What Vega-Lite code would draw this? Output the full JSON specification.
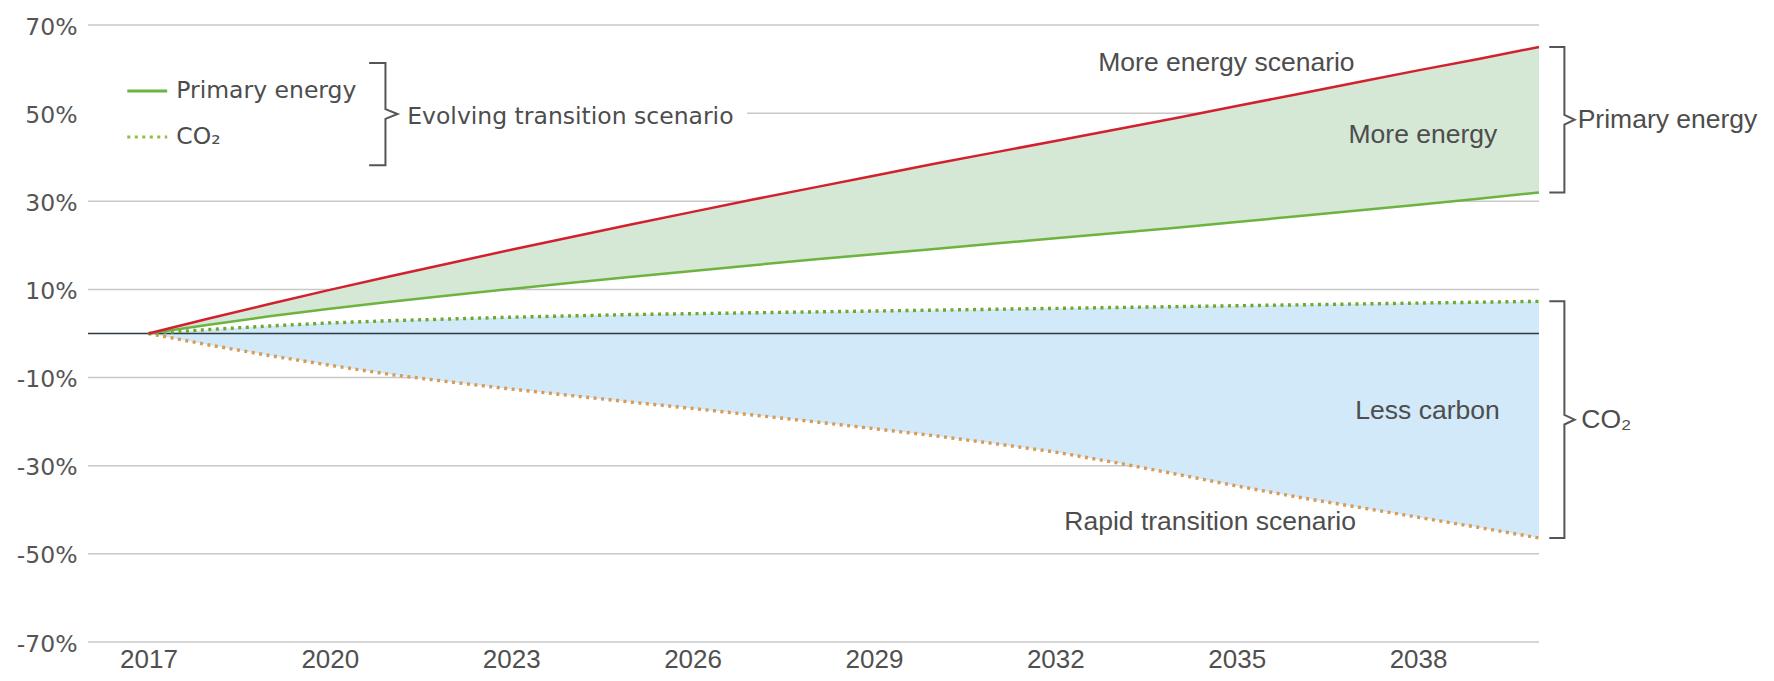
{
  "$schema": "https://vega.github.io/schema/vega-lite/v6.json",
  "width": 1451,
  "height": 617,
  "autosize": {"type": "none"},
  "padding": {"left": 88, "top": 25, "right": 235, "bottom": 39},
  "background": "white",
  "config": {"view": {"stroke": null}},
  "datasets": {
    "s": [
      {"year": 2017, "more": 0, "evo_pe": 0, "evo_co2": 0, "rapid_co2": 0},
      {"year": 2018, "more": 3.4, "evo_pe": 2.0, "evo_co2": 0.9, "rapid_co2": -2.6},
      {"year": 2019, "more": 6.7, "evo_pe": 3.9, "evo_co2": 1.7, "rapid_co2": -5.0},
      {"year": 2020, "more": 9.9, "evo_pe": 5.6, "evo_co2": 2.4, "rapid_co2": -7.2},
      {"year": 2021, "more": 13.0, "evo_pe": 7.2, "evo_co2": 2.9, "rapid_co2": -9.3},
      {"year": 2022, "more": 16.0, "evo_pe": 8.7, "evo_co2": 3.3, "rapid_co2": -11.0},
      {"year": 2023, "more": 19.0, "evo_pe": 10.1, "evo_co2": 3.7, "rapid_co2": -12.6},
      {"year": 2024, "more": 21.9, "evo_pe": 11.5, "evo_co2": 4.0, "rapid_co2": -14.1},
      {"year": 2025, "more": 24.8, "evo_pe": 12.9, "evo_co2": 4.3, "rapid_co2": -15.6},
      {"year": 2026, "more": 27.6, "evo_pe": 14.2, "evo_co2": 4.5, "rapid_co2": -17.0},
      {"year": 2027, "more": 30.4, "evo_pe": 15.5, "evo_co2": 4.7, "rapid_co2": -18.5},
      {"year": 2028, "more": 33.1, "evo_pe": 16.8, "evo_co2": 4.9, "rapid_co2": -20.0},
      {"year": 2029, "more": 35.8, "evo_pe": 18.0, "evo_co2": 5.1, "rapid_co2": -21.6},
      {"year": 2030, "more": 38.5, "evo_pe": 19.2, "evo_co2": 5.3, "rapid_co2": -23.2},
      {"year": 2031, "more": 41.1, "evo_pe": 20.4, "evo_co2": 5.5, "rapid_co2": -25.0},
      {"year": 2032, "more": 43.7, "evo_pe": 21.6, "evo_co2": 5.7, "rapid_co2": -26.9},
      {"year": 2033, "more": 46.3, "evo_pe": 22.8, "evo_co2": 5.9, "rapid_co2": -29.3},
      {"year": 2034, "more": 48.9, "evo_pe": 24.0, "evo_co2": 6.1, "rapid_co2": -31.9},
      {"year": 2035, "more": 51.6, "evo_pe": 25.3, "evo_co2": 6.3, "rapid_co2": -34.6},
      {"year": 2036, "more": 54.3, "evo_pe": 26.6, "evo_co2": 6.5, "rapid_co2": -37.1},
      {"year": 2037, "more": 57.0, "evo_pe": 27.9, "evo_co2": 6.7, "rapid_co2": -39.4},
      {"year": 2038, "more": 59.7, "evo_pe": 29.2, "evo_co2": 6.9, "rapid_co2": -41.7},
      {"year": 2039, "more": 62.3, "evo_pe": 30.6, "evo_co2": 7.1, "rapid_co2": -44.0},
      {"year": 2040, "more": 65.0, "evo_pe": 32.0, "evo_co2": 7.3, "rapid_co2": -46.4}
    ],
    "brackets": [
      {"b": "left", "o": 1, "x": 2020.65, "y": 61.4},
      {"b": "left", "o": 2, "x": 2020.92, "y": 61.4},
      {"b": "left", "o": 3, "x": 2020.92, "y": 50.9},
      {"b": "left", "o": 4, "x": 2021.12, "y": 49.8},
      {"b": "left", "o": 5, "x": 2020.92, "y": 48.7},
      {"b": "left", "o": 6, "x": 2020.92, "y": 38.2},
      {"b": "left", "o": 7, "x": 2020.65, "y": 38.2},
      {"b": "pe", "o": 1, "x": 2040.17, "y": 65.0},
      {"b": "pe", "o": 2, "x": 2040.42, "y": 65.0},
      {"b": "pe", "o": 3, "x": 2040.42, "y": 49.6},
      {"b": "pe", "o": 4, "x": 2040.59, "y": 48.5},
      {"b": "pe", "o": 5, "x": 2040.42, "y": 47.4},
      {"b": "pe", "o": 6, "x": 2040.42, "y": 32.0},
      {"b": "pe", "o": 7, "x": 2040.17, "y": 32.0},
      {"b": "co2", "o": 1, "x": 2040.17, "y": 7.3},
      {"b": "co2", "o": 2, "x": 2040.42, "y": 7.3},
      {"b": "co2", "o": 3, "x": 2040.42, "y": -18.45},
      {"b": "co2", "o": 4, "x": 2040.59, "y": -19.55},
      {"b": "co2", "o": 5, "x": 2040.42, "y": -20.65},
      {"b": "co2", "o": 6, "x": 2040.42, "y": -46.4},
      {"b": "co2", "o": 7, "x": 2040.17, "y": -46.4}
    ]
  },
  "layer": [
    {
      "data": {"values": [{"v": -70}, {"v": -50}, {"v": -30}, {"v": -10}, {"v": 10}, {"v": 30}, {"v": 70}]},
      "mark": {"type": "rule", "color": "#c8c8c8", "strokeWidth": 1.5},
      "encoding": {
        "y": {
          "field": "v", "type": "quantitative", "title": null,
          "scale": {"domain": [-70, 70], "nice": false, "zero": false},
          "axis": {
            "values": [-70, -50, -30, -10, 10, 30, 50, 70],
            "labelExpr": "datum.value + '%'",
            "grid": false, "domain": false, "ticks": false,
            "labelFont": "DejaVu Sans", "labelFontSize": 23.5, "labelColor": "#555555",
            "labelPadding": 11, "labelOffset": 2, "title": null
          }
        }
      }
    },
    {
      "data": {"values": [{"x": 2026.9, "x2": 2040, "v": 50}]},
      "mark": {"type": "rule", "color": "#c8c8c8", "strokeWidth": 1.5},
      "encoding": {
        "x": {"field": "x", "type": "quantitative", "title": null},
        "x2": {"field": "x2"},
        "y": {"field": "v", "type": "quantitative", "title": null}
      }
    },
    {
      "data": {"name": "s"},
      "mark": {"type": "area", "color": "#d5e7d5", "opacity": 1},
      "encoding": {
        "x": {
          "field": "year", "type": "quantitative", "title": null,
          "scale": {"domain": [2016, 2040], "nice": false, "zero": false},
          "axis": {
            "values": [2017, 2020, 2023, 2026, 2029, 2032, 2035, 2038],
            "format": "d", "grid": false, "domain": false, "ticks": false,
            "labelFont": "Liberation Sans", "labelFontSize": 26, "labelColor": "#505050",
            "labelPadding": 4, "title": null
          }
        },
        "y": {"field": "evo_pe", "type": "quantitative", "title": null},
        "y2": {"field": "more"}
      }
    },
    {
      "data": {"name": "s"},
      "mark": {"type": "area", "color": "#d1e9f8", "opacity": 1},
      "encoding": {
        "x": {"field": "year", "type": "quantitative", "title": null},
        "y": {"field": "rapid_co2", "type": "quantitative", "title": null},
        "y2": {"field": "evo_co2"}
      }
    },
    {
      "data": {"values": [{"v": 0}]},
      "mark": {"type": "rule", "color": "#2e3a42", "strokeWidth": 1.6},
      "encoding": {"y": {"field": "v", "type": "quantitative", "title": null}}
    },
    {
      "data": {"name": "s"},
      "mark": {"type": "line", "color": "#d99a55", "strokeWidth": 3.4, "strokeDash": [3, 4.5]},
      "encoding": {
        "x": {"field": "year", "type": "quantitative", "title": null},
        "y": {"field": "rapid_co2", "type": "quantitative", "title": null}
      }
    },
    {
      "data": {"name": "s"},
      "mark": {"type": "line", "color": "#6fa82c", "strokeWidth": 3.4, "strokeDash": [3, 4.5]},
      "encoding": {
        "x": {"field": "year", "type": "quantitative", "title": null},
        "y": {"field": "evo_co2", "type": "quantitative", "title": null}
      }
    },
    {
      "data": {"name": "s"},
      "mark": {"type": "line", "color": "#6db33f", "strokeWidth": 2.5},
      "encoding": {
        "x": {"field": "year", "type": "quantitative", "title": null},
        "y": {"field": "evo_pe", "type": "quantitative", "title": null}
      }
    },
    {
      "data": {"name": "s"},
      "mark": {"type": "line", "color": "#d3202f", "strokeWidth": 2.5},
      "encoding": {
        "x": {"field": "year", "type": "quantitative", "title": null},
        "y": {"field": "more", "type": "quantitative", "title": null}
      }
    },
    {
      "data": {"values": [{"x": 2016.65, "y": 55.0}, {"x": 2017.31, "y": 55.0}]},
      "mark": {"type": "line", "color": "#6db33f", "strokeWidth": 3},
      "encoding": {
        "x": {"field": "x", "type": "quantitative", "title": null},
        "y": {"field": "y", "type": "quantitative", "title": null}
      }
    },
    {
      "data": {"values": [{"x": 2016.65, "y": 44.6}, {"x": 2017.31, "y": 44.6}]},
      "mark": {"type": "line", "color": "#8cc040", "strokeWidth": 3, "strokeDash": [3, 4.5]},
      "encoding": {
        "x": {"field": "x", "type": "quantitative", "title": null},
        "y": {"field": "y", "type": "quantitative", "title": null}
      }
    },
    {
      "data": {"name": "brackets"},
      "mark": {"type": "line", "color": "#555555", "strokeWidth": 2},
      "encoding": {
        "x": {"field": "x", "type": "quantitative", "title": null},
        "y": {"field": "y", "type": "quantitative", "title": null},
        "detail": {"field": "b"},
        "order": {"field": "o", "type": "quantitative"}
      }
    },
    {
      "data": {"values": [
        {"x": 2017.46, "y": 55.0, "t": "Primary energy"},
        {"x": 2017.46, "y": 44.6, "t": "CO₂"},
        {"x": 2021.28, "y": 49.1, "t": "Evolving transition scenario"}
      ]},
      "mark": {"type": "text", "align": "left", "baseline": "middle", "font": "DejaVu Sans", "fontSize": 23.5, "color": "#4d4d4d"},
      "encoding": {
        "x": {"field": "x", "type": "quantitative", "title": null},
        "y": {"field": "y", "type": "quantitative", "title": null},
        "text": {"field": "t"}
      }
    },
    {
      "data": {"values": [
        {"x": 2034.83, "y": 61.4, "t": "More energy scenario"},
        {"x": 2034.56, "y": -42.8, "t": "Rapid transition scenario"}
      ]},
      "mark": {"type": "text", "align": "center", "baseline": "middle", "font": "Liberation Sans", "fontSize": 26.5, "color": "#4d4d4d"},
      "encoding": {
        "x": {"field": "x", "type": "quantitative", "title": null},
        "y": {"field": "y", "type": "quantitative", "title": null},
        "text": {"field": "t"}
      }
    },
    {
      "data": {"values": [
        {"x": 2039.31, "y": 45.0, "t": "More energy"},
        {"x": 2039.35, "y": -17.6, "t": "Less carbon"}
      ]},
      "mark": {"type": "text", "align": "right", "baseline": "middle", "font": "Liberation Sans", "fontSize": 26.5, "color": "#4d4d4d"},
      "encoding": {
        "x": {"field": "x", "type": "quantitative", "title": null},
        "y": {"field": "y", "type": "quantitative", "title": null},
        "text": {"field": "t"}
      }
    },
    {
      "data": {"values": [
        {"x": 2040.64, "y": 48.4, "t": "Primary energy"},
        {"x": 2040.70, "y": -19.6, "t": "CO₂"}
      ]},
      "mark": {"type": "text", "align": "left", "baseline": "middle", "font": "Liberation Sans", "fontSize": 26.5, "color": "#4d4d4d"},
      "encoding": {
        "x": {"field": "x", "type": "quantitative", "title": null},
        "y": {"field": "y", "type": "quantitative", "title": null},
        "text": {"field": "t"}
      }
    }
  ]
}
